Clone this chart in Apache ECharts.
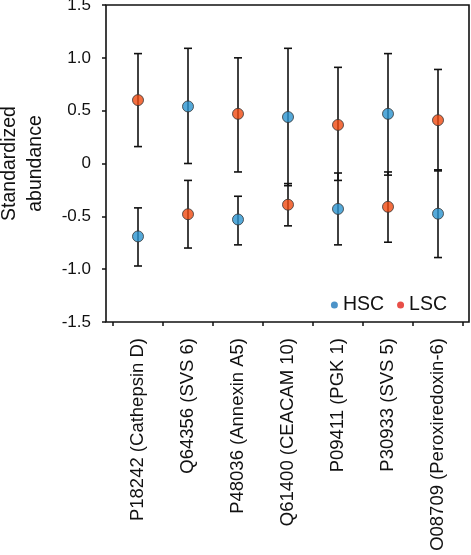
<!DOCTYPE html>
<html>
<head>
<meta charset="utf-8">
<script src="https://cdn.jsdelivr.net/npm/echarts@6/dist/echarts.min.js"></script>
<style>html,body{margin:0;padding:0;background:#fff}#c{width:471px;height:555px}</style>
</head>
<body>
<div id="c"></div>
<script>
var categories = ['P18242 (Cathepsin D)','Q64356 (SVS 6)','P48036 (Annexin A5)','Q61400 (CEACAM 10)','P09411 (PGK 1)','P30933 (SVS 5)','O08709 (Peroxiredoxin-6)'];
var hscMean  = [-0.69, 0.54, -0.53, 0.44, -0.43, 0.47, -0.475];
var hscLow   = [-0.97, 0.00, -0.77, -0.21, -0.77, -0.11, -0.89];
var hscHigh  = [-0.42, 1.09, -0.31, 1.09, -0.09, 1.04, -0.06];
var lscMean  = [0.60, -0.48, 0.47, -0.39, 0.365, -0.41, 0.41];
var lscLow   = [0.16, -0.80, -0.08, -0.59, -0.16, -0.745, -0.07];
var lscHigh  = [1.04, -0.16, 1.00, -0.19, 0.91, -0.08, 0.89];
var yTicks = [-1.5, -1.0, -0.5, 0, 0.5, 1.0, 1.5];

var FONT = 'Liberation Sans';
function errData(low, high){ return categories.map(function(c,i){ return [i, low[i], high[i]]; }); }
function errRender(params, api){
  var x = api.value(0);
  var lo = api.coord([x, api.value(1)]);
  var hi = api.coord([x, api.value(2)]);
  var w = 4;
  var st = {stroke:'#111', lineWidth:1.6};
  return {type:'group', children:[
    {type:'line', shape:{x1:lo[0],y1:lo[1],x2:hi[0],y2:hi[1]}, style:st},
    {type:'line', shape:{x1:lo[0]-w,y1:lo[1],x2:lo[0]+w,y2:lo[1]}, style:st},
    {type:'line', shape:{x1:hi[0]-w,y1:hi[1],x2:hi[0]+w,y2:hi[1]}, style:st}
  ]};
}
var chart = echarts.init(document.getElementById('c'), null, {renderer:'canvas'});
chart.setOption({
  animation:false,
  textStyle:{fontFamily:FONT},
  grid:[
    {left:106, right:2, top:5, bottom:233, show:true, borderColor:'#111', borderWidth:1.6, backgroundColor:'transparent', containLabel:false, outerBoundsMode:'none'},
    {left:113, right:8, top:5, bottom:233, containLabel:false, outerBoundsMode:'none'}
  ],
  legend:{
    data:[{name:'HSC', itemStyle:{color:'#1f78ba', borderWidth:0}}, {name:'LSC', itemStyle:{color:'#e2231a', borderWidth:0}}],
    right:19, top:290, icon:'circle', itemWidth:7, itemHeight:7, itemGap:13,
    textStyle:{fontFamily:FONT, fontSize:19.5, color:'#111', padding:[0,0,0,0]}
  },
  xAxis:[
    {gridIndex:0, type:'value', show:false, min:0, max:1},
    {gridIndex:1, type:'category', data:categories, boundaryGap:true,
      axisLine:{show:false, onZero:false},
      axisTick:{show:true, inside:false, length:4, lineStyle:{color:'#111', width:1.5}},
      axisLabel:{rotate:90, margin:16, fontSize:18.5, color:'#111', fontFamily:FONT}}
  ],
  yAxis:[
    {gridIndex:0, type:'value', show:false, min:0, max:1},
    {gridIndex:1, type:'value', min:-1.5, max:1.5, interval:0.5, offset:7,
      name:'Standardized\nabundance', nameLocation:'middle', nameGap:57,
      nameTextStyle:{fontSize:19.5, color:'#111', lineHeight:26, fontFamily:FONT},
      axisLine:{show:false, onZero:false},
      axisTick:{show:true, length:4, lineStyle:{color:'#111', width:1.5}},
      splitLine:{show:false},
      axisLabel:{fontSize:17, color:'#111', margin:15, fontFamily:FONT,
        formatter:function(v){ return v===0 ? '0' : v.toFixed(1); }}
    }
  ],
  series:[
    {name:'HSCerr', type:'custom', xAxisIndex:1, yAxisIndex:1, data:errData(hscLow,hscHigh), renderItem:errRender, z:2, silent:true},
    {name:'LSCerr', type:'custom', xAxisIndex:1, yAxisIndex:1, data:errData(lscLow,lscHigh), renderItem:errRender, z:2, silent:true},
    {name:'HSC', type:'scatter', xAxisIndex:1, yAxisIndex:1, data:hscMean, symbolSize:11, z:5,
      itemStyle:{color:'#2a94d0', borderColor:'#333', borderWidth:1}},
    {name:'LSC', type:'scatter', xAxisIndex:1, yAxisIndex:1, data:lscMean, symbolSize:11, z:5,
      itemStyle:{color:'#f04a10', borderColor:'#333', borderWidth:1}}
  ]
});
</script>
</body>
</html>
